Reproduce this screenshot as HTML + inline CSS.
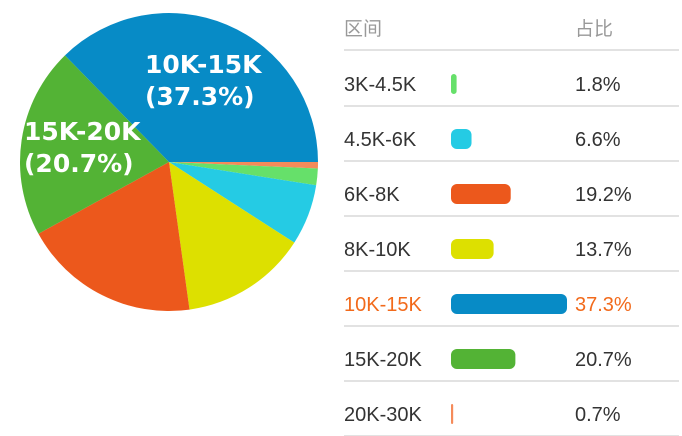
<!DOCTYPE html>
<html><head><meta charset="utf-8"><style>
body{margin:0;width:682px;height:436px;background:#fff;overflow:hidden;font-family:"Liberation Sans","Noto Sans CJK SC",sans-serif;}
svg{position:absolute;left:0;top:0}
</style></head><body>
<svg id="c" width="682" height="436"></svg>
<script>
const categories=["20K-30K","3K-4.5K","4.5K-6K","8K-10K","6K-8K","15K-20K","10K-15K"];
const values=[0.7,1.8,6.6,13.7,19.2,20.7,37.3];
const colors=["#f58b5a","#66e06a","#25cbe4","#dde000","#ec581c","#53b335","#078bc6"];
const tableOrder=["3K-4.5K","4.5K-6K","6K-8K","8K-10K","10K-15K","15K-20K","20K-30K"];
const NS="http://www.w3.org/2000/svg",svg=document.getElementById('c');
function mk(t,a,p){const e=document.createElementNS(NS,t);for(const k in a)e.setAttribute(k,a[k]);(p||svg).appendChild(e);return e;}
const cx=169,cy=162,r=149,total=values.reduce((a,b)=>a+b,0);
let ang=0;
values.forEach((v,i)=>{
  const a0=ang,a1=ang+v/total*2*Math.PI;ang=a1;
  const x0=cx+r*Math.cos(a0),y0=cy+r*Math.sin(a0),x1=cx+r*Math.cos(a1),y1=cy+r*Math.sin(a1);
  const p=mk('path',{d:`M${cx},${cy}L${x0},${y0}A${r},${r} 0 ${a1-a0>Math.PI?1:0} 1 ${x1},${y1}Z`,fill:colors[i]});
  
  
});
function lbl(x,y,lines,name){const t=mk('text',{x:x,y:y,fill:'#fff','font-size':25,'font-weight':'bold','font-family':'"DejaVu Sans",sans-serif'});

lines.forEach((s,i)=>{const ts=mk('tspan',{x:x,dy:i?32:0},t);ts.textContent=s;});}
lbl(145,73,["10K-15K","(37.3%)"],'label-10k-15k');
lbl(24,140,["15K-20K","(20.7%)"],'label-15k-20k');
const h1=mk('text',{x:344,y:35,fill:'#999','font-size':19});h1.textContent="区间";

const h2=mk('text',{x:575,y:35,fill:'#999','font-size':19});h2.textContent="占比";

mk('rect',{x:344,y:49,width:335,height:2,fill:'#e2e2e2'});
const maxV=Math.max(...values);
tableOrder.forEach((c,i)=>{
  const idx=categories.indexOf(c),v=values[idx],y=84+i*55;
  const col=c==="10K-15K"?"#f26a1b":"#333";
  const t=mk('text',{x:344,y:y+7,fill:col,'font-size':20});t.textContent=c;
  
  const w=Math.max(2,v/maxV*116);
  const b=mk('rect',{x:451,y:y-10,width:w,height:20,rx:Math.min(6,w/2),fill:colors[idx]});
  
  const p=mk('text',{x:575,y:y+7,fill:col,'font-size':20});p.textContent=v.toFixed(1)+"%";
  
  const l=mk('rect',{x:344,y:y+21,width:335,height:2,fill:'#e2e2e2'});
  
});
</script>
</body></html>
